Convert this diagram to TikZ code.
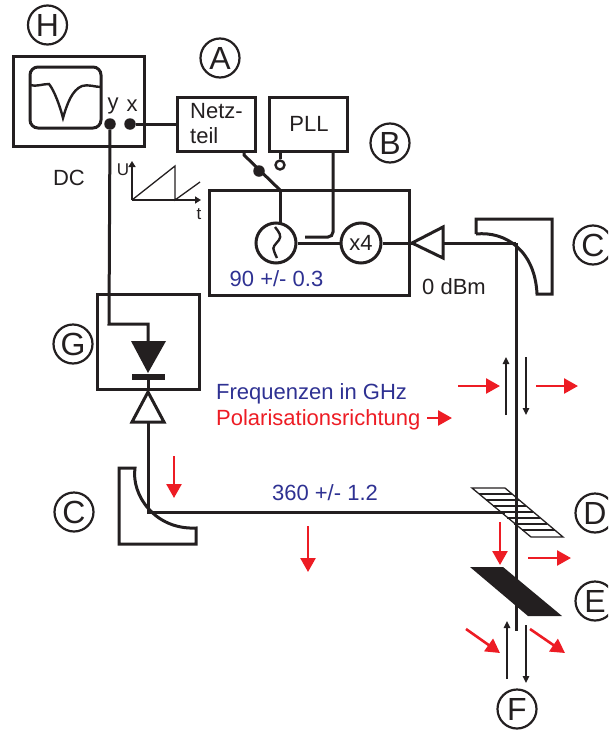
\documentclass[tikz,border=0pt]{standalone}
\usepackage{fontspec}
\setmainfont{Liberation Sans}
\usetikzlibrary{arrows.meta}
\definecolor{ink}{HTML}{231F20}
\definecolor{fblue}{HTML}{2E3192}
\definecolor{fred}{HTML}{ED1C24}
\begin{document}
\begin{tikzpicture}[x=1pt,y=-1pt,
  wire/.style={draw=ink,line width=3pt},
  boxn/.style={draw=ink,line width=3pt,fill=none},
  lbl/.style={circle,draw=ink,line width=2.2pt,minimum size=39pt,inner sep=0pt,font=\fontsize{32}{32}\selectfont,text=ink},
  txt/.style={text=ink,inner sep=0pt,font=\fontsize{22}{22}\selectfont},
  small/.style={text=ink,inner sep=0pt,font=\fontsize{17}{17}\selectfont},
  bluetxt/.style={text=fblue,inner sep=0pt,font=\fontsize{22}{22}\selectfont},
  redtxt/.style={text=fred,inner sep=0pt,font=\fontsize{22}{22}\selectfont},
  redarrow/.style={draw=fred,line width=2.6pt,-{Triangle[length=14pt,width=15pt]}},
  blackarrow/.style={draw=ink,line width=1.5pt,-{Triangle[length=7pt,width=6.5pt]}},
  axis/.style={draw=ink,line width=2.5pt,-{Triangle[length=6pt,width=7pt]}},
  dot/.style={circle,fill=ink,draw=none,minimum size=11.5pt,inner sep=0pt},
  ring/.style={circle,draw=ink,line width=2.4pt,fill=white,minimum size=9pt,inner sep=0pt},
  rnd/.style={circle,draw=ink,line width=3pt,minimum size=40pt,inner sep=0pt,font=\fontsize{22}{22}\selectfont,text=ink},
]
\useasboundingbox (0,0) rectangle (608,731);
\clip (0,0) rectangle (608,731);
% labels
\node[lbl] (H) at (47.5,25) {H};
\node[lbl] (A) at (220,58) {A};
\node[lbl] (B) at (390,143) {B};
\node[lbl] (C1) at (593,245) {C};
\node[lbl] (G) at (73,344) {G};
\node[lbl] (C2) at (74,512) {C};
\node[lbl] (D) at (595,513) {D};
\node[lbl] (E) at (595,601) {E};
\node[lbl] (F) at (517,709) {F};
% oscilloscope
\draw[wire] (13.5,56) rectangle (144,146);
\draw[wire,rounded corners=8pt] (30,67) rectangle (101,128);
\draw[draw=ink,line width=2.4pt,line join=miter] (30,85) .. controls (36,87) and (42,84) .. (49,84) .. controls (54,90) and (60,106) .. (63,118) .. controls (67,104) and (72,90) .. (82,86) .. controls (88,84) and (95,87) .. (101,87);
\node[dot] (ydot) at (110,124) {};
\node[dot] (xdot) at (130,124) {};
\node[txt] at (113,106) {y};
\node[txt] at (132,106) {x};
\node[txt] at (69,178) {DC};
% Netzteil and PLL
\node[boxn,minimum width=78pt,minimum height=54pt,inner sep=0pt] (netz) at (216,124) {};
\node[txt,anchor=base west] at (190,118) {Netz-};
\node[txt,anchor=base west] at (190,143) {teil};
\node[boxn,minimum width=78pt,minimum height=54pt,inner sep=0pt] (pll) at (308,124.5) {};
\node[txt] at (309,124) {PLL};
\draw[wire] (xdot) -- (netz.west);
% ramp
\coordinate (org) at (132,200);
\coordinate (uend) at (132,161);
\coordinate (tend) at (201,200);
\draw[axis] (org) -- (uend);
\draw[axis] (org) -- (tend);
\draw[draw=ink,line width=1.3pt] (org) -- (175,166) -- (175,200) -- (200,182);
\node[small] at (123,170) {U};
\node[small] at (199,214) {t};
% switch
\coordinate (swtop) at (244,151);
\coordinate (swbot) at (280,190);
\draw[wire] (swtop) -- (244,155) -- (swbot);
\node[dot] (swdot) at (259,171) {};
\node[ring] (ringp) at (280,165) {};
\draw[wire] (280,152) -- (ringp);
% B box
\draw[wire] (209,190) rectangle (409,295);
\node[rnd] (osc) at (276,243) {};
\draw[draw=ink,line width=2.4pt] (275,227) .. controls (279,232) and (282,236) .. (279,240) .. controls (275,245) and (272,247) .. (274,251) .. controls (275,254) and (276,256) .. (277,258);
\node[rnd] (x4) at (361,243) {x4};
\draw[wire] (swbot) -- (280,223.5);
\draw[wire] (osc) -- (x4);
\draw[wire,rounded corners=5pt] (333,152) -- (333,237) -- (305,237);
\node[bluetxt] at (276.5,279) {90 +/- 0.3};
\node[txt] at (454,287) {0 dBm};
% amp
\draw[wire,fill=white] (412,243) -- (443,227) -- (443,258) -- cycle;
\draw[wire] (x4) -- (412,243);
\draw[wire] (443,243) -- (516,243);
% mirror C1
\draw[wire] (476,234) -- (476,219) -- (552,219) -- (552,294) -- (537,294) .. controls (535,250) and (505,231) .. (476,234);
\coordinate (b1) at (516,243);
\coordinate (b2) at (516,631);
\draw[wire] (b1) -- (b2);
% G box
\draw[wire] (97,294) rectangle (199,389);
\draw[wire] (ydot) -- (109,324) -- (148,324) -- (148,345);
\fill[ink] (131,341) -- (166,341) -- (148,373) -- cycle;
\fill[ink] (132,373.5) rectangle (165,379.5);
\draw[wire] (148,376) -- (148,389);
\draw[wire,fill=white] (148,392) -- (164,422) -- (132,422) -- cycle;
\draw[wire] (148,422) -- (148,512) -- (505,512);
% mirror C2
\draw[wire] (119,468) -- (135,468) .. controls (131,495) and (155,530) .. (196,528) -- (196,544) -- (119,544) -- cycle;
% text
\node[bluetxt,anchor=west] at (216,394) {Frequenzen in GHz};
\node[redtxt,anchor=west] at (216,420) {Polarisationsrichtung};
\node[bluetxt] at (325,493) {360 +/- 1.2};
% arrows
\draw[redarrow] (174,456) -- (174,498);
\draw[redarrow] (308,526) -- (308,572);
\draw[redarrow] (427,418) -- (452,418);
\draw[redarrow] (458,386) -- (500,386);
\draw[redarrow] (536,386) -- (578,386);
\draw[blackarrow] (506,415) -- (506,357);
\draw[blackarrow] (526,357) -- (526,415);
% grating
\draw[draw=ink,line width=1.3pt] (472,488) -- (505,488) -- (563,537) -- (531,537) -- cycle;
\foreach \y/\a/\b in {494/479/512,500/486/519,506/493/526,512/500/533,518/507/540,524/514/547,530/522/555}
  \draw[draw=ink,line width=1.3pt] (\a,\y) -- (\b,\y);
\draw[redarrow] (500,522) -- (500,565);
\draw[redarrow] (528,558) -- (571,558);
% E plate
\fill[ink] (470,567) -- (503,567) -- (562,616) -- (528,616) -- cycle;
\draw[redarrow] (466,629) -- (500,653);
\draw[redarrow] (530,629) -- (565,653);
\draw[blackarrow] (507,679) -- (507,621);
\draw[blackarrow] (526,625) -- (526,683);
\end{tikzpicture}
\end{document}
